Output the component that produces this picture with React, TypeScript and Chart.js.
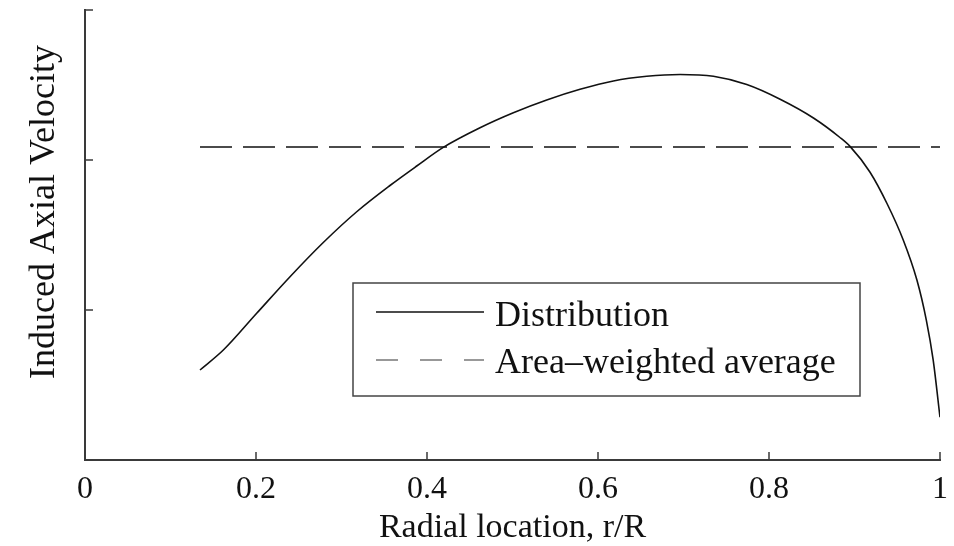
import React, { useEffect, useRef } from "react";
import { Chart, registerables } from "chart.js";

Chart.register(...registerables);

// ---- data ----
const distX = [0.1345, 0.1618, 0.2008, 0.2398, 0.2787, 0.3178, 0.3567, 0.388, 0.419, 0.462, 0.501, 0.54, 0.579, 0.618, 0.657, 0.696, 0.735, 0.774, 0.813, 0.852, 0.883, 0.895, 0.918, 0.938, 0.957, 0.973, 0.984, 0.992, 1.0];
const distY = [0.6, 0.733, 0.978, 1.222, 1.45, 1.655, 1.83, 1.96, 2.084, 2.215, 2.315, 2.4, 2.471, 2.527, 2.558, 2.57, 2.558, 2.503, 2.405, 2.28, 2.15, 2.089, 1.92, 1.71, 1.467, 1.2, 0.933, 0.667, 0.285];
const avgX = [0.1345, 1.0];
const avgY = [2.087, 2.087];
const xTickLabels = ["0", "0.2", "0.4", "0.6", "0.8", "1"];
const seriesNames = ["Distribution", "Area\u2013weighted average"];
const xTitle = "Radial location, r/R";
const yTitle = "Induced Axial Velocity";

const FONT = '"Liberation Serif", "Times New Roman", serif';
const AXIS_COLOR = "#3a3a3a";

const decorPlugin = {
  id: "decor",
  afterDraw(chart: any) {
    const ctx = chart.ctx;
    const xs = chart.scales.x;
    const ys = chart.scales.y;
    const ca = chart.chartArea;
    ctx.save();
    // inward ticks
    ctx.strokeStyle = AXIS_COLOR;
    ctx.lineWidth = 1.5;
    ctx.beginPath();
    xs.ticks.forEach((t: any) => {
      const px = xs.getPixelForValue(t.value);
      ctx.moveTo(px, ca.bottom);
      ctx.lineTo(px, ca.bottom - 8);
    });
    ys.ticks.forEach((t: any) => {
      const py = ys.getPixelForValue(t.value);
      ctx.moveTo(ca.left, py);
      ctx.lineTo(ca.left + 8, py);
    });
    ctx.stroke();

    // y title
    ctx.fillStyle = "#111";
    ctx.font = `36px ${FONT}`;
    ctx.textAlign = "center";
    ctx.textBaseline = "middle";
    ctx.translate(45, ca.top + 202);
    ctx.rotate(-Math.PI / 2);
    ctx.fillText(yTitle, 0, 0);
    ctx.setTransform(1, 0, 0, 1, 0, 0);

    // legend box
    const bx = ca.left + 268;
    const by = ca.top + 273;
    const bw = 507;
    const bh = 113;
    ctx.fillStyle = "#fff";
    ctx.fillRect(bx, by, bw, bh);
    ctx.strokeStyle = "#444";
    ctx.lineWidth = 1.5;
    ctx.strokeRect(bx, by, bw, bh);

    const lx0 = bx + 23;
    const lx1 = bx + 131;
    ctx.lineWidth = 1.5;
    ctx.strokeStyle = "#111";
    ctx.setLineDash([]);
    ctx.beginPath();
    ctx.moveTo(lx0, by + 29);
    ctx.lineTo(lx1, by + 29);
    ctx.stroke();
    ctx.strokeStyle = "#777";
    ctx.setLineDash([22, 22]);
    ctx.beginPath();
    ctx.moveTo(lx0, by + 77);
    ctx.lineTo(lx1, by + 77);
    ctx.stroke();
    ctx.setLineDash([]);

    ctx.fillStyle = "#111";
    ctx.font = `36px ${FONT}`;
    ctx.textAlign = "left";
    ctx.textBaseline = "alphabetic";
    ctx.fillText(seriesNames[0], bx + 142, by + 43);
    ctx.fillText(seriesNames[1], bx + 142, by + 90);
    ctx.restore();
  },
};

export default function App() {
  const ref = useRef<HTMLCanvasElement>(null);
  useEffect(() => {
    if (!ref.current) return;
    const chart = new Chart(ref.current, {
      type: "line",
      data: {
        datasets: [
          {
            label: seriesNames[0],
            data: distX.map((x, i) => ({ x, y: distY[i] })),
            borderColor: "#111",
            borderWidth: 1.6,
            pointRadius: 0,
            cubicInterpolationMode: "monotone",
            fill: false,
          },
          {
            label: seriesNames[1],
            data: avgX.map((x, i) => ({ x, y: avgY[i] })),
            borderColor: "#111",
            borderWidth: 1.6,
            borderDash: [32, 11],
            pointRadius: 0,
            fill: false,
          },
        ],
      },
      options: {
        responsive: false,
        animation: false,
        layout: { padding: { top: 10, right: 14, left: 0, bottom: 0 } },
        plugins: { legend: { display: false }, tooltip: { enabled: false } },
        scales: {
          x: {
            type: "linear",
            min: 0,
            max: 1,
            ticks: {
              stepSize: 0.2,
              color: "#111",
              font: { family: FONT, size: 32 },
              padding: 10,
              maxRotation: 0,
              callback: (_v: any, i: number) => xTickLabels[i],
            },
            grid: { display: false, drawTicks: false },
            border: { display: true, color: AXIS_COLOR, width: 2 },
            title: {
              display: true,
              text: xTitle,
              color: "#111",
              font: { family: FONT, size: 34, lineHeight: 1.05 },
              padding: { top: 0, bottom: 0 },
            },
            afterFit: (s: any) => {
              s.height = 86;
              s.paddingLeft = 0;
              s.paddingRight = 0;
            },
          },
          y: {
            type: "linear",
            min: 0,
            max: 3,
            ticks: { stepSize: 1, display: false },
            grid: { display: false, drawTicks: false },
            border: { display: true, color: AXIS_COLOR, width: 2 },
            afterFit: (s: any) => {
              s.width = 85;
              s.paddingTop = 0;
              s.paddingBottom = 0;
            },
          },
        },
      },
      plugins: [decorPlugin],
    } as any);
    return () => chart.destroy();
  }, []);
  return (
    <div style={{ position: "fixed", left: 0, top: 0, width: 954, height: 546, background: "#fff" }}>
      <canvas ref={ref} width={954} height={546} style={{ display: "block" }} />
    </div>
  );
}
